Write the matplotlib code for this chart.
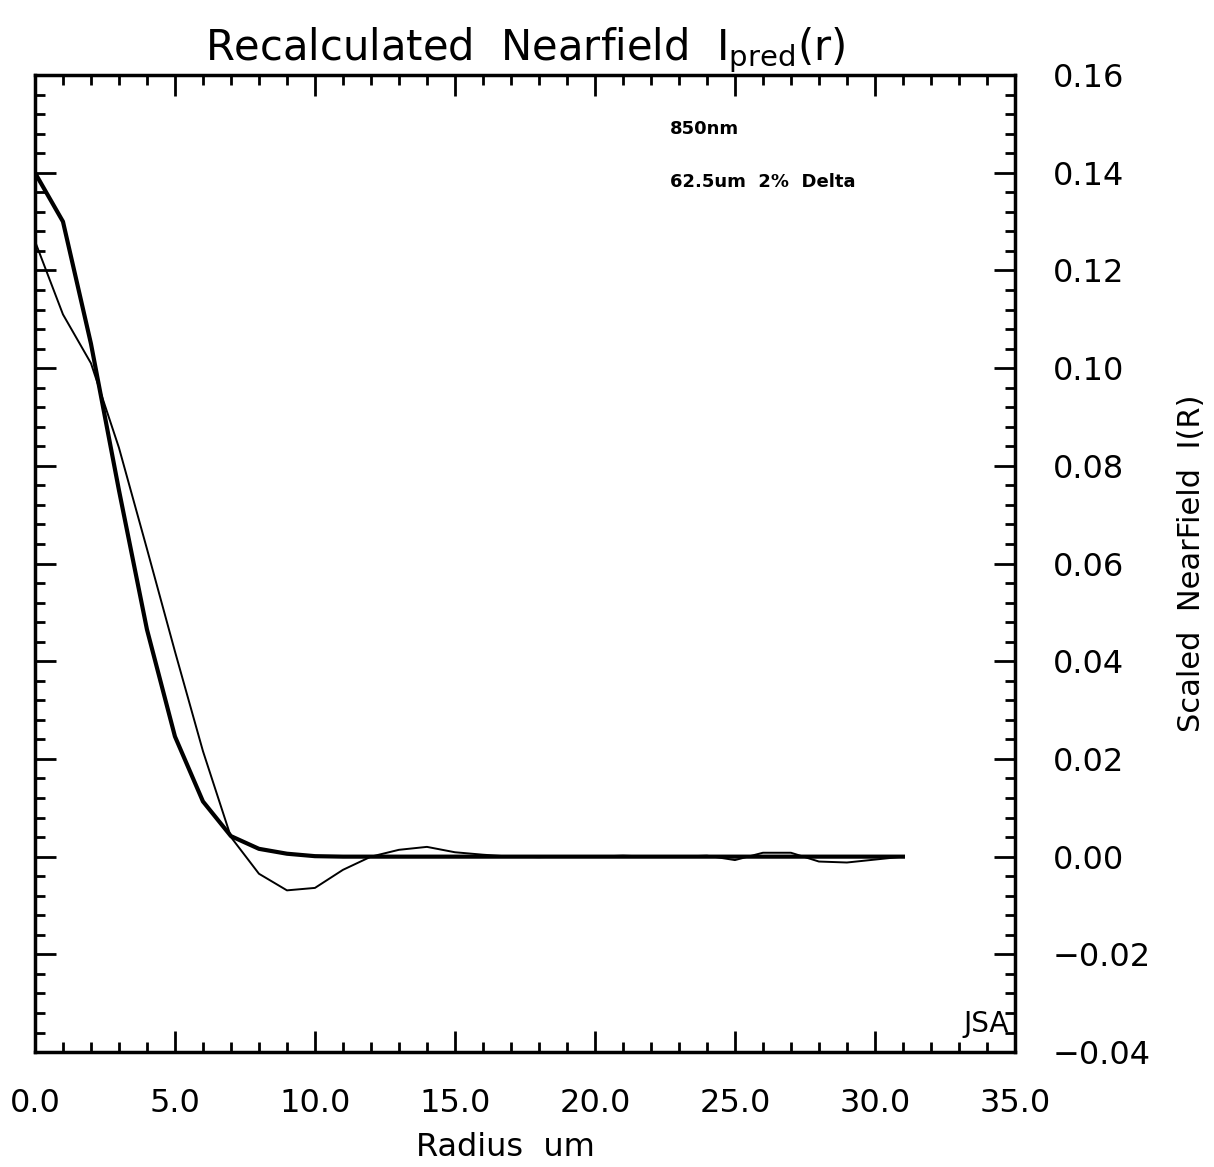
import matplotlib
matplotlib.use("Agg")
import matplotlib.pyplot as plt
from matplotlib.ticker import MultipleLocator, FuncFormatter
import numpy as np

# data
radius = list(range(0, 32))
fit_curve = [0.140, 0.130, 0.105, 0.075, 0.0465, 0.0246, 0.0113, 0.0042, 0.0016, 0.0006,
             0.0001, 0.0, 0.0, 0.0, 0.0, 0.0, 0.0, 0.0, 0.0, 0.0,
             0.0, 0.0, 0.0, 0.0, 0.0, 0.0, 0.0, 0.0, 0.0, 0.0,
             0.0, 0.0]
measured = [0.126, 0.111, 0.101, 0.0837, 0.063, 0.042, 0.0216, 0.004, -0.0035, -0.0069,
            -0.0064, -0.0027, 0.0, 0.0014, 0.0020, 0.0009, 0.0004, 0.0, -0.0001, 0.0,
            0.0, 0.0002, 0.0, 0.0, 0.0002, -0.0007, 0.0008, 0.0008, -0.0010, -0.0012,
            -0.0006, 0.0]

title = r"Recalculated  Nearfield  I$_{\mathregular{pred}}$(r)"
xlab = "Radius  um"
ylab = "Scaled  NearField  I(R)"
notes = ["850nm", "62.5um  2%  Delta"]

plt.rcParams['font.family'] = ['DejaVu Sans']
plt.rcParams['mathtext.fontset'] = 'dejavusans'

fig = plt.figure(figsize=(12.14, 11.67), dpi=100)
ax = fig.add_axes([0.0288, 0.0985, 0.8072, 0.8372])

ax.plot(radius, measured, color='black', lw=1.4)
ax.plot(radius, fit_curve, color='black', lw=3.0)

ax.set_xlim(0, 35)
ax.set_ylim(-0.04, 0.16)

ax.xaxis.set_major_locator(MultipleLocator(5))
ax.xaxis.set_minor_locator(MultipleLocator(1))
ax.yaxis.set_major_locator(MultipleLocator(0.02))
ax.yaxis.set_minor_locator(MultipleLocator(0.004))

def fmt(n):
    return FuncFormatter(lambda v, p: ("%.*f" % (n, v)).replace('-', '\u2212'))

ax.xaxis.set_major_formatter(fmt(1))
ax.yaxis.set_major_formatter(fmt(2))

ax.tick_params(which='both', direction='in', top=True, bottom=True, left=True, right=True,
               labelleft=False, labelright=True, width=2, labelsize=23)
ax.tick_params(which='major', length=15)
ax.tick_params(which='minor', length=7)
ax.tick_params(axis='x', pad=26)
ax.tick_params(axis='y', pad=27)

for s in ax.spines.values():
    s.set_linewidth(2.5)

ax.set_title(title, fontsize=30, pad=8)
ax.set_xlabel(xlab, fontsize=23)
ax.xaxis.set_label_coords(0.48, -0.082)
ax.yaxis.set_label_position('right')
ax.set_ylabel(ylab, fontsize=22)
ax.yaxis.set_label_coords(1.165, 0.5)

ax.text(0.648, 0.94, notes[0], transform=ax.transAxes, fontsize=13, fontweight='bold')
ax.text(0.648, 0.885, notes[1], transform=ax.transAxes, fontsize=13, fontweight='bold')
ax.text(0.994, 0.014, "JSA", transform=ax.transAxes, fontsize=20, ha='right', va='bottom')

fig.savefig("out.png", dpi=100)
